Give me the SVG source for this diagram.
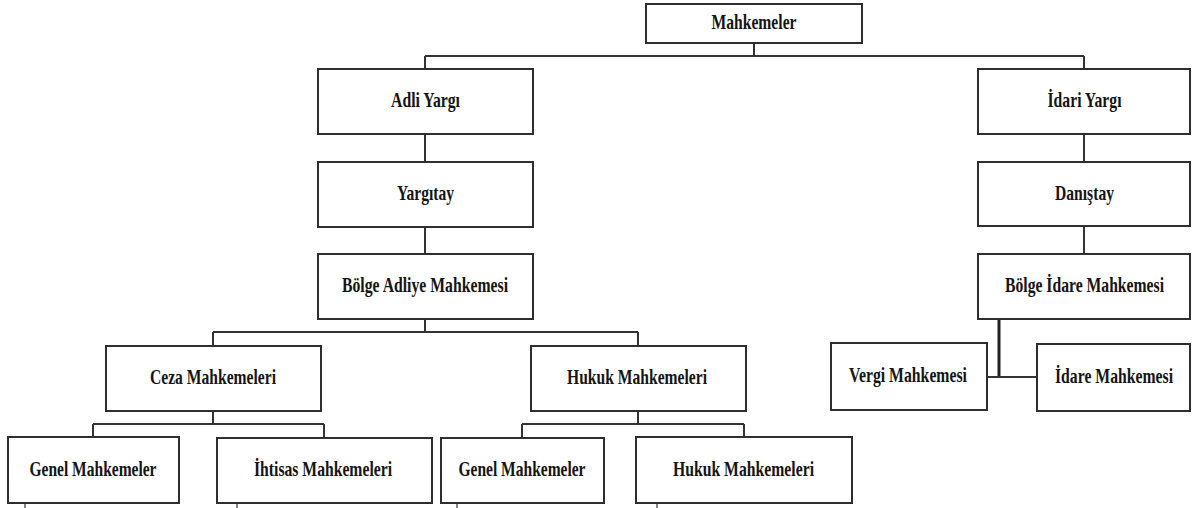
<svg xmlns="http://www.w3.org/2000/svg" width="1192" height="508" viewBox="0 0 1192 508">
<style>
.box{fill:#fff;stroke:#2e2e2e;stroke-width:2}
.lbl{font-family:"Liberation Serif","Times New Roman",serif;font-weight:bold;font-size:22px;fill:#151515;text-anchor:middle}
.ln{stroke:#333;stroke-width:2;fill:none}
.thk{stroke:#222;stroke-width:3;fill:none}
.thin{stroke:#333;stroke-width:1.2;fill:none}
</style>
<rect width="1192" height="508" fill="#fff"/>
<g id="connectors">
<path class="ln" d="M754 43V56M425 56H1084M425 56V69M1084 56V69"/>
<path class="ln" d="M425 134V162M425 227V254M425 319V332M213 332H638M213 332V346M638 332V346"/>
<path class="ln" d="M1084 134V162M1084 226V254"/>
<path class="ln" d="M213 411V424M93 424H324M93 424V437M324 424V438"/>
<path class="ln" d="M638 411V424M522 424H744M522 424V438M744 424V437"/>
<path class="thk" d="M999 319V377"/>
<path class="ln" d="M987 377H1037"/>
<path class="thin" d="M25 503V508M237 503V508M457 503V508M657 503V508"/>
</g>
<g id="mahkemeler"><rect class="box" x="646" y="4" width="216" height="39"/><text class="lbl" x="754" y="29" textLength="85" lengthAdjust="spacingAndGlyphs">Mahkemeler</text></g>
<g id="adli-yargi"><rect class="box" x="318" y="69" width="215" height="65"/><text class="lbl" x="425.5" y="107" textLength="69" lengthAdjust="spacingAndGlyphs">Adli Yargı</text></g>
<g id="idari-yargi"><rect class="box" x="978" y="69" width="212" height="65"/><text class="lbl" x="1084.5" y="107" textLength="74" lengthAdjust="spacingAndGlyphs">İdari Yargı</text></g>
<g id="yargitay"><rect class="box" x="318" y="162" width="215" height="65"/><text class="lbl" x="425.5" y="200" textLength="57" lengthAdjust="spacingAndGlyphs">Yargıtay</text></g>
<g id="danistay"><rect class="box" x="978" y="162" width="212" height="64"/><text class="lbl" x="1084.5" y="199.5" textLength="59" lengthAdjust="spacingAndGlyphs">Danıştay</text></g>
<g id="bolge-adliye"><rect class="box" x="318" y="254" width="215" height="65"/><text class="lbl" x="425" y="292" textLength="166" lengthAdjust="spacingAndGlyphs">Bölge Adliye Mahkemesi</text></g>
<g id="bolge-idare"><rect class="box" x="978" y="254" width="212" height="65"/><text class="lbl" x="1084.5" y="292" textLength="159" lengthAdjust="spacingAndGlyphs">Bölge İdare Mahkemesi</text></g>
<g id="ceza"><rect class="box" x="106" y="346" width="215" height="65"/><text class="lbl" x="213" y="384" textLength="126" lengthAdjust="spacingAndGlyphs">Ceza Mahkemeleri</text></g>
<g id="hukuk"><rect class="box" x="531" y="346" width="215" height="65"/><text class="lbl" x="637" y="384" textLength="140" lengthAdjust="spacingAndGlyphs">Hukuk Mahkemeleri</text></g>
<g id="vergi"><rect class="box" x="831" y="343" width="156" height="67"/><text class="lbl" x="908" y="382" textLength="118" lengthAdjust="spacingAndGlyphs">Vergi Mahkemesi</text></g>
<g id="idare"><rect class="box" x="1037" y="344" width="153" height="67"/><text class="lbl" x="1114" y="383" textLength="118" lengthAdjust="spacingAndGlyphs">İdare Mahkemesi</text></g>
<g id="genel-ceza"><rect class="box" x="8" y="437" width="171" height="66"/><text class="lbl" x="93" y="475.5" textLength="127" lengthAdjust="spacingAndGlyphs">Genel Mahkemeler</text></g>
<g id="ihtisas"><rect class="box" x="217" y="438" width="215" height="65"/><text class="lbl" x="323" y="476" textLength="138" lengthAdjust="spacingAndGlyphs">İhtisas Mahkemeleri</text></g>
<g id="genel-hukuk"><rect class="box" x="441" y="438" width="163" height="65"/><text class="lbl" x="522" y="476" textLength="127" lengthAdjust="spacingAndGlyphs">Genel Mahkemeler</text></g>
<g id="hukuk-alt"><rect class="box" x="636" y="437" width="216" height="66"/><text class="lbl" x="743.5" y="475.5" textLength="141" lengthAdjust="spacingAndGlyphs">Hukuk Mahkemeleri</text></g>
</svg>
